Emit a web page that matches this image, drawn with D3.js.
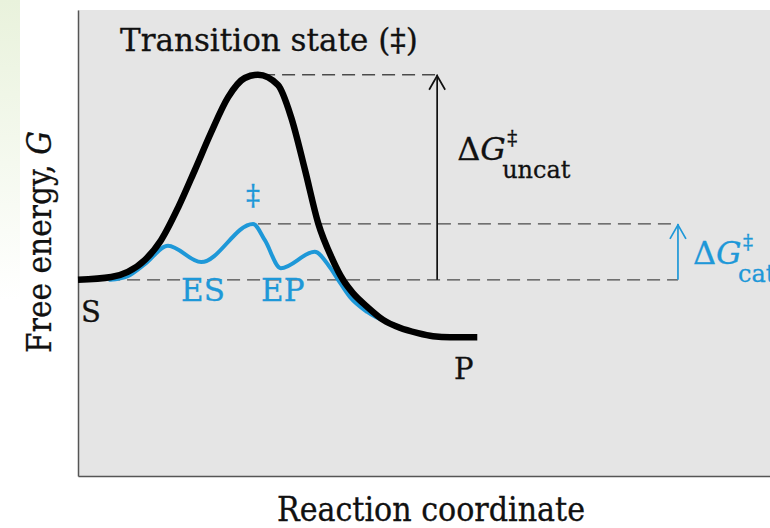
<!DOCTYPE html>
<html>
<head>
<meta charset="utf-8">
<script src="https://cdn.jsdelivr.net/npm/d3@7"></script>
<style>
  body { margin: 0; background: #fff; }
  svg text { font-family: "DejaVu Serif", serif; fill: #111; stroke: currentColor; stroke-width: 0.3; }
  .cond { font-family: "DejaVu Serif Condensed", "DejaVu Serif", serif; font-stretch: condensed; }
</style>
</head>
<body>
<svg width="770" height="528"></svg>
<script>
// reaction coordinate (0-100) and free energy (0-100)
const uncatX = [0, 4.8, 7.2, 9.7, 12.0, 14.5, 16.9, 19.2, 21.7, 24.1, 26.0, 28.9, 30.8, 32.8, 34.7, 36.8, 38.3, 39.7, 41.8, 44.1, 46.5, 49.0, 51.3, 53.8, 57.7];
const uncatG = [42.1, 42.7, 43.8, 46.4, 50.6, 57.7, 65.7, 73.6, 81.3, 85.4, 86.1, 83.9, 77.0, 65.7, 54.3, 46.4, 42.1, 39.3, 36.3, 33.5, 31.8, 30.7, 30.0, 29.8, 29.8];

const catX = [4.6, 7.2, 9.7, 13.0, 17.8, 25.3, 27.0, 29.3, 34.2, 36.4, 37.6, 39.3, 41.8, 44.7, 45.5];
const catG = [42.1, 42.9, 45.5, 49.4, 45.9, 54.1, 50.6, 44.6, 48.1, 44.8, 42.1, 38.4, 35.2, 33.0, 32.6];

// dashed guide lines: start, end, level
const guideStart = [4.2, 26.0, 26.6];
const guideEnd = [86.7, 86.7, 51.9];
const guideG = [42.1, 54.1, 86.1];

// the two barrier arrows
const arrowX = [51.9, 86.7];
const arrowFrom = [42.1, 42.1];
const arrowTo = [86.1, 54.1];
const arrowKind = ["uncat", "cat"];

const blue = "#1e98d8";
const ink = "#111";

const svg = d3.select("svg");
const plot = { left: 78, top: 10, right: 770, bottom: 476 };

const x = d3.scaleLinear().domain([0, 100]).range([plot.left, plot.right]);
const y = d3.scaleLinear().domain([0, 100]).range([plot.bottom, plot.top]);

// faint green smudge on the far left of the scan
const defs = svg.append("defs");
const grad = defs.append("linearGradient").attr("id", "smudge").attr("x1", 0).attr("y1", 0).attr("x2", 0).attr("y2", 1);
grad.append("stop").attr("offset", "0%").attr("stop-color", "#e9f2dc");
grad.append("stop").attr("offset", "100%").attr("stop-color", "#ffffff");
svg.append("rect").attr("x", 0).attr("y", 0).attr("width", 20).attr("height", 300).attr("fill", "url(#smudge)");

// plot background
svg.append("rect")
  .attr("x", plot.left).attr("y", plot.top)
  .attr("width", plot.right - plot.left).attr("height", plot.bottom - plot.top)
  .attr("fill", "#e5e5e5");

// axes (no ticks)
svg.append("g")
  .attr("transform", `translate(${plot.left},0)`)
  .call(d3.axisLeft(y).tickValues([]).tickSizeOuter(0))
  .select(".domain").attr("stroke", "#555").attr("stroke-width", 1.5);
svg.append("g")
  .attr("transform", `translate(0,${plot.bottom})`)
  .call(d3.axisBottom(x).tickValues([]).tickSizeOuter(0))
  .select(".domain").attr("stroke", "#555").attr("stroke-width", 1.5);

// dashed guides
svg.append("g").selectAll("line")
  .data(guideG)
  .join("line")
  .attr("x1", (d, i) => x(guideStart[i]))
  .attr("x2", (d, i) => x(guideEnd[i]))
  .attr("y1", d => y(d)).attr("y2", d => y(d))
  .attr("stroke", "#4a4a4a").attr("stroke-width", 1.3)
  .attr("stroke-dasharray", "13,7");

// arrows
arrowX.forEach((ax, i) => {
  const col = arrowKind[i] === "cat" ? blue : ink;
  const g = svg.append("g").attr("stroke", col).attr("stroke-width", 1.7).attr("fill", "none");
  const x0 = x(ax), yTip = y(arrowTo[i]);
  g.append("line").attr("x1", x0).attr("x2", x0).attr("y1", y(arrowFrom[i])).attr("y2", yTip);
  g.append("path").attr("d", `M${x0 - 8},${yTip + 15} L${x0},${yTip + 1} L${x0 + 8},${yTip + 15}`);
});

const line = d3.line().x(d => x(d[0])).y(d => y(d[1])).curve(d3.curveMonotoneX);

// catalyzed path (under the black curve)
svg.append("path")
  .datum(catX.map((v, i) => [v, catG[i]]))
  .attr("d", line)
  .attr("fill", "none").attr("stroke", blue).attr("stroke-width", 4)
  .attr("stroke-linecap", "round");

// uncatalyzed path
svg.append("path")
  .datum(uncatX.map((v, i) => [v, uncatG[i]]))
  .attr("d", line)
  .attr("fill", "none").attr("stroke", "#000").attr("stroke-width", 6.5);

// labels
function label(tx, ty, size, col, str) {
  return svg.append("text").attr("x", tx).attr("y", ty).attr("font-size", size)
    .style("fill", col).style("color", col).text(str);
}
label(120, 51, 31, ink, "Transition state (\u2021)");
label(81, 322, 29, ink, "S");
label(454, 379, 29, ink, "P");
label(181, 301, 31, blue, "ES");
label(261, 301, 31, blue, "EP");
label(x(25.3), 205, 28, blue, "\u2021").attr("text-anchor", "middle");

// delta G labels
function deltaG(x0, yBase, sub, col) {
  label(x0, yBase, 32, col, "").html('\u0394<tspan font-style="italic">G</tspan>');
  label(x0 + 50, yBase - 15, 20, col, "\u2021");
  label(x0 + 45, yBase + 18, 24, col, sub);
}
deltaG(x(arrowX[0]) + 20, 160, "uncat", ink);
deltaG(x(arrowX[1]) + 15, 264, "cat", blue);

// axis titles
label(431, 521, 33.5, ink, "Reaction coordinate")
  .attr("class", "cond").attr("text-anchor", "middle");
svg.append("text").attr("class", "cond")
  .style("fill", ink).style("color", ink)
  .attr("transform", "translate(51,242) rotate(-90)")
  .attr("text-anchor", "middle").attr("font-size", 33)
  .html('Free energy, <tspan font-style="italic">G</tspan>');
</script>
</body>
</html>
